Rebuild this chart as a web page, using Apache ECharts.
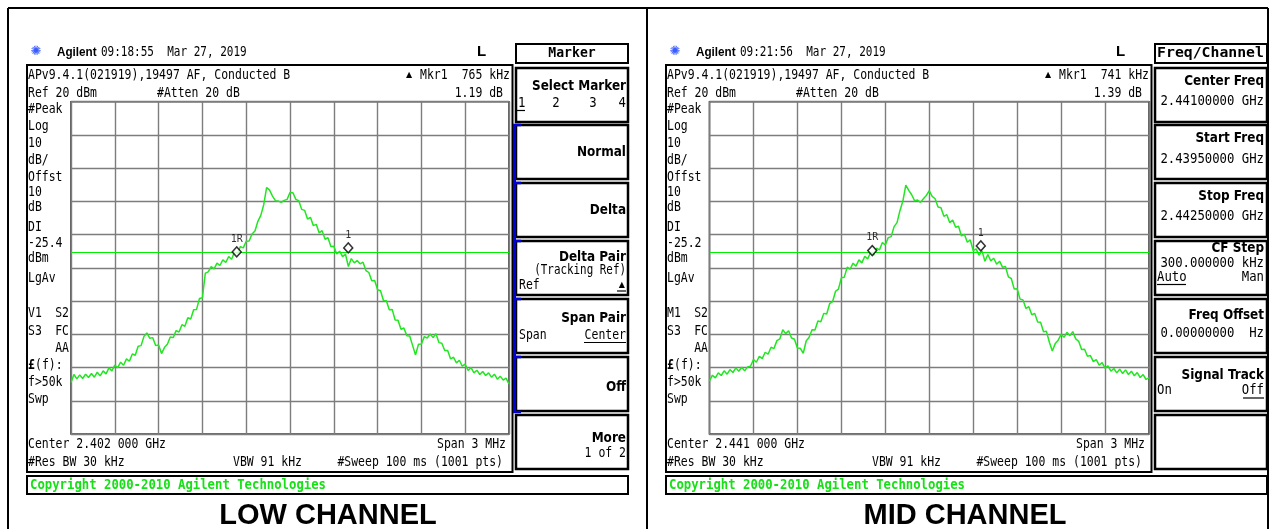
<!DOCTYPE html>
<html><head><meta charset="utf-8">
<script src="https://cdn.jsdelivr.net/npm/echarts@6/dist/echarts.min.js"></script>
<style>html,body{margin:0;padding:0;background:#fff;}#c{width:1276px;height:529px;}</style>
</head><body><div id="c"></div>
<script>
// ---- data (frequency offset from centre, kHz; level dBm) ----
const freqKHz = [-1500,-1480,-1460,-1440,-1420,-1400,-1380,-1360,-1340,-1320,
-1300,-1280,-1260,-1240,-1220,-1200,-1180,-1160,-1140,-1120,
-1100,-1080,-1060,-1040,-1020,-1000,-980,-960,-940,-920,
-900,-880,-860,-840,-820,-800,-780,-760,-740,-720,
-700,-680,-660,-640,-620,-600,-580,-560,-540,-520,
-500,-480,-460,-440,-420,-400,-380,-360,-340,-320,
-300,-280,-260,-240,-220,-200,-180,-160,-140,-120,
-100,-80,-60,-40,-20,0,20,40,60,80,
100,120,140,160,180,200,220,240,260,280,
300,320,340,360,380,400,420,440,460,480,
500,520,540,560,580,600,620,640,660,680,
700,720,740,760,780,800,820,840,860,880,
900,920,940,960,980,1000,1020,1040,1060,1080,
1100,1120,1140,1160,1180,1200,1220,1240,1260,1280,
1300,1320,1340,1360,1380,1400,1420,1440,1460,1480,
1500];
const lowLevel = [-64.5,-62.1,-63.4,-62.2,-63.3,-62.0,-63.0,-61.8,-62.9,-61.4,
-62.5,-61.0,-61.9,-60.1,-61.0,-59.3,-60.0,-58.4,-59.3,-57.4,
-58.1,-55.9,-56.3,-53.6,-53.4,-50.6,-49.6,-51.2,-51.0,-53.4,
-53.2,-55.8,-54.0,-53.0,-50.8,-51.0,-48.9,-49.3,-47.1,-47.6,
-45.0,-45.4,-42.6,-42.5,-39.2,-39.0,-31.6,-31.2,-29.6,-30.3,
-28.6,-29.3,-27.6,-28.4,-26.6,-27.4,-25.2,-25.6,-23.6,-24.0,
-22.0,-21.9,-19.8,-18.9,-16.0,-14.2,-11.0,-5.8,-6.6,-8.4,
-9.8,-9.9,-10.3,-9.7,-9.4,-7.3,-7.4,-9.4,-9.8,-12.4,
-12.7,-15.3,-14.8,-17.3,-16.9,-19.5,-18.8,-21.4,-20.9,-23.6,
-23.5,-25.8,-25.0,-26.6,-25.9,-29.6,-27.2,-28.5,-27.8,-28.8,
-28.3,-30.8,-31.4,-33.9,-33.8,-36.6,-36.9,-39.8,-39.9,-42.6,
-42.5,-45.7,-45.8,-48.5,-48.1,-50.4,-50.5,-53.4,-56.2,-53.0,
-52.9,-50.7,-51.1,-49.9,-51.0,-49.8,-52.5,-52.7,-54.9,-54.9,
-57.4,-56.9,-58.6,-57.8,-59.6,-59.0,-60.9,-60.0,-61.6,-60.8,
-62.1,-61.2,-62.4,-61.6,-62.9,-62.0,-63.5,-62.6,-63.8,-63.2,
-65.0];
const midLevel = [-64.0,-62.3,-63.1,-61.6,-62.4,-61.0,-62.0,-60.6,-61.5,-60.1,
-61.1,-59.9,-61.0,-59.8,-59.6,-57.6,-58.4,-56.6,-57.3,-55.4,
-56.0,-53.9,-54.3,-51.9,-51.4,-48.6,-49.8,-48.9,-51.1,-51.5,
-54.1,-54.2,-55.7,-52.0,-50.9,-48.6,-48.7,-46.0,-46.2,-43.7,
-43.9,-40.8,-40.2,-37.1,-36.4,-33.0,-32.8,-29.8,-30.4,-28.6,
-29.5,-27.6,-28.5,-26.5,-27.3,-25.3,-26.1,-24.1,-24.6,-22.4,
-23.1,-20.9,-20.6,-17.6,-16.4,-12.8,-9.9,-5.1,-6.7,-8.0,
-9.8,-9.6,-10.3,-9.2,-8.2,-6.8,-8.5,-9.2,-11.7,-11.9,
-14.5,-14.0,-16.4,-15.6,-17.8,-17.5,-20.4,-19.9,-22.3,-21.6,
-24.8,-24.3,-26.2,-24.9,-28.0,-26.0,-27.9,-27.1,-28.9,-28.0,
-29.8,-29.6,-32.7,-33.2,-36.4,-36.3,-39.4,-39.7,-42.2,-41.7,
-44.1,-43.7,-46.3,-46.4,-49.2,-49.1,-52.4,-55.0,-52.8,-51.8,
-50.0,-50.9,-49.4,-50.4,-49.2,-51.4,-52.1,-54.6,-54.5,-56.6,
-56.4,-58.2,-57.6,-59.3,-58.5,-60.2,-59.5,-61.1,-60.3,-61.6,
-60.5,-61.8,-60.7,-62.1,-61.1,-62.5,-61.5,-63.0,-62.1,-63.6,
-63.0];
const lowMarkerFreq = [-365, 399];
const lowMarkerLevel = [-25.2, -24.0];
const midMarkerFreq = [-389, 352];
const midMarkerLevel = [-24.8, -23.4];
const markerNames = ['1R', '1'];
const displayLineLevel = [-25.4, -25.2];
const screenTime = ['09:18:55', '09:21:56'];
const mkrDeltaFreq = ['765 kHz', '741 kHz'];
const mkrDeltaAmp = ['1.19 dB', '1.39 dB'];
const centerFreqLabel = ['2.402 000 GHz', '2.441 000 GHz'];
const modeLabel = ['V1', 'M1'];
const captions = ['LOW CHANNEL', 'MID CHANNEL'];
const markerKeys = ['Select Marker', 'Normal', 'Delta', 'Delta Pair', 'Span Pair', 'Off', 'More'];
const freqKeys = ['Center Freq', 'Start Freq', 'Stop Freq', 'CF Step', 'Freq Offset', 'Signal Track', ''];
const freqKeyValues = ['2.44100000 GHz', '2.43950000 GHz', '2.44250000 GHz', '300.000000 kHz', '0.00000000  Hz'];

// ---- drawing helpers ----
const cv = document.createElement('canvas').getContext('2d');
function charScale(font, w) { cv.font = font; return w / cv.measureText('0000000000').width * 10; }
const MONO = '14px "DejaVu Sans Mono"';
const MONOB = 'bold 14px "DejaVu Sans Mono"';
const KEYF = 'bold 14px "DejaVu Sans"';
const KEYSX = 0.86;
const monoSx = charScale(MONO, 6.9);
const subSx = charScale(MONO, 7.4);
const copySx = charScale(MONOB, 7.4);
const g = [];
function txt(x, y, s, o) {
  o = o || {};
  g.push({ type: 'text', x: x, y: y, z: 100, scaleX: o.sx == null ? monoSx : o.sx,
    style: { text: s, font: o.font || MONO, fill: o.fill || '#000',
      textAlign: o.align || 'left', textVerticalAlign: 'middle', align: o.align || 'left', verticalAlign: 'middle' } });
}
function rect(x, y, w, h, lw, stroke, fill) {
  g.push({ type: 'rect', z: 90, shape: { x: x, y: y, width: w, height: h },
    style: { fill: fill || 'none', stroke: stroke || '#000', lineWidth: lw } });
}
function line(x1, y1, x2, y2, lw, c) {
  g.push({ type: 'line', z: 95, shape: { x1: x1, y1: y1, x2: x2, y2: y2 }, style: { stroke: c || '#000', lineWidth: lw } });
}

const keyTops = [68, 125, 183, 241, 299, 357, 415];
function screen(i, dx) {
  // header
  txt(36 + dx, 52, '✺', { font: '13px "DejaVu Sans"', fill: '#3a5cff', sx: 1, align: 'center' });
  txt(57 + dx, 52, 'Agilent', { font: 'bold 13px "Liberation Sans"', sx: 0.9 });
  txt(101 + dx, 52, screenTime[i] + '  Mar 27, 2019', { sx: monoSx * 0.96 });
  txt(477 + dx, 52, 'L', { font: 'bold 15px "Liberation Sans"', sx: 1 });
  rect(27 + dx, 65, 485.5, 407, 2);
  // top rows
  txt(28 + dx, 75, 'APv9.4.1(021919),19497 AF, Conducted B');
  txt(406 + dx, 75, '▲', { font: '8px "DejaVu Sans"', sx: 1 });
  txt(420 + dx, 75, 'Mkr1');
  txt(510 + dx, 75, mkrDeltaFreq[i], { align: 'right' });
  txt(28 + dx, 93, 'Ref 20 dBm');
  txt(157 + dx, 93, '#Atten 20 dB');
  txt(503 + dx, 93, mkrDeltaAmp[i], { align: 'right' });
  // left column
  const col = [['#Peak', 109], ['Log', 126], ['10', 143], ['dB/', 160], ['Offst', 177], ['10', 192],
    ['dB', 207], ['DI', 227], [displayLineLevel[i].toFixed(1), 243], ['dBm', 258], ['LgAv', 278],
    [modeLabel[i], 313], ['S3', 331], ['f>50k', 382], ['Swp', 399]];
  col.forEach(function (c) { txt(28 + dx, c[1], c[0]); });
  txt(69 + dx, 313, 'S2', { align: 'right' });
  txt(69 + dx, 331, 'FC', { align: 'right' });
  txt(69 + dx, 348, 'AA', { align: 'right' });
  txt(28 + dx, 365, '£', { font: MONOB });
  txt(35 + dx, 365, '(f):');
  // bottom rows
  txt(28 + dx, 444, 'Center ' + centerFreqLabel[i]);
  txt(506 + dx, 444, 'Span 3 MHz', { align: 'right' });
  txt(28 + dx, 462, '#Res BW 30 kHz');
  txt(233 + dx, 462, 'VBW 91 kHz');
  txt(503 + dx, 462, '#Sweep 100 ms (1001 pts)', { align: 'right' });
  // copyright
  rect(27 + dx, 476, 601, 18, 2);
  txt(30 + dx, 485.5, 'Copyright 2000-2010 Agilent Technologies', { font: MONOB, fill: '#16e016', sx: copySx });
  // softkey boxes
  rect(516 + dx, 44, 112, 19, 2);
  keyTops.forEach(function (t) { rect(516 + dx, t, 112, 54, 2.5); });
}
screen(0, 0);
screen(1, 639);

// Marker softkeys (left)
txt(572, 53.5, 'Marker', { font: MONOB, align: 'center', sx: charScale(MONOB, 7.9) });
txt(626, 86, markerKeys[0], { font: KEYF, align: 'right', sx: KEYSX });
txt(518, 103, '1', { sx: subSx }); line(517, 110.5, 525, 110.5, 1.2);
txt(556, 103, '2', { align: 'center', sx: subSx });
txt(593, 103, '3', { align: 'center', sx: subSx });
txt(626, 103, '4', { align: 'right', sx: subSx });
txt(626, 152, markerKeys[1], { font: KEYF, align: 'right', sx: KEYSX });
txt(626, 210, markerKeys[2], { font: KEYF, align: 'right', sx: KEYSX });
txt(626, 257, markerKeys[3], { font: KEYF, align: 'right', sx: KEYSX });
txt(626, 270.5, '(Tracking Ref)', { align: 'right', sx: monoSx * 0.95 });
txt(519, 285, 'Ref', { sx: monoSx });
txt(625, 284.5, '▲', { font: '8px "DejaVu Sans"', align: 'right', sx: 1 }); line(617, 291, 626, 291, 1.2);
txt(626, 318, markerKeys[4], { font: KEYF, align: 'right', sx: KEYSX });
txt(519, 335, 'Span', { sx: monoSx });
txt(626, 335, 'Center', { align: 'right', sx: monoSx }); line(584, 342.5, 626, 342.5, 1.2);
txt(626, 387, markerKeys[5], { font: KEYF, align: 'right', sx: KEYSX });
txt(626, 438, markerKeys[6], { font: KEYF, align: 'right', sx: KEYSX });
txt(626, 453.5, '1 of 2', { align: 'right', sx: monoSx });
// blue active bar
line(514.5, 124, 514.5, 413, 3, '#0000d8');
[125, 183, 241, 299, 357, 412].forEach(function (y) { line(513, y, 521, y, 2.5, '#0000d8'); });

// Freq/Channel softkeys (right)
txt(1210.5, 53.5, 'Freq/Channel', { font: MONOB, align: 'center', sx: charScale(MONOB, 8.9) });
const fkY = [[81.7, 101.7], [138.3, 159], [196.7, 216.7], [248, 263.3], [315, 333.3], [375, 0]];
fkY.forEach(function (p, k) {
  txt(1264, p[0], freqKeys[k], { font: KEYF, align: 'right', sx: KEYSX });
  if (k < 5) txt(1264, p[1], freqKeyValues[k], { align: 'right', sx: subSx });
});
txt(1157, 277.3, 'Auto', { sx: subSx }); line(1157, 284.5, 1186, 284.5, 1.2);
txt(1264, 277.3, 'Man', { align: 'right', sx: subSx });
txt(1157, 390.7, 'On', { sx: subSx });
txt(1264, 390.7, 'Off', { align: 'right', sx: subSx }); line(1243, 398, 1264, 398, 1.2);

// outer frame and captions
line(8, 8, 1268, 8, 2);
line(8, 8, 8, 529, 2);
line(647, 8, 647, 529, 2);
line(1268, 8, 1268, 529, 2);
txt(328, 516, captions[0], { font: 'bold 29px "Liberation Sans"', align: 'center', sx: 1 });
txt(965, 516, captions[1], { font: 'bold 29px "Liberation Sans"', align: 'center', sx: 1 });

// ---- chart ----
function pairs(xs, ys) { return xs.map(function (x, k) { return [x, ys[k]]; }); }
function markerData(fs, ls) { return fs.map(function (f, k) { return { name: markerNames[k], value: [f, ls[k]] }; }); }
const gridCommon = { show: true, borderColor: '#3c3c3c', borderWidth: 1.6, backgroundColor: '#fff' };
function xAx(k) {
  return { gridIndex: k, type: 'value', min: -1500, max: 1500, interval: 300,
    axisLabel: { show: false }, axisTick: { show: false }, axisLine: { show: false },
    splitLine: { show: true, lineStyle: { color: '#7d7d7d', width: 1.4 } } };
}
function yAx(k) {
  return { gridIndex: k, type: 'value', min: -80, max: 20, interval: 10,
    axisLabel: { show: false }, axisTick: { show: false }, axisLine: { show: false },
    splitLine: { show: true, lineStyle: { color: '#7d7d7d', width: 1.4 } } };
}
function traceSeries(k, levels) {
  return { type: 'line', xAxisIndex: k, yAxisIndex: k, data: pairs(freqKHz, levels),
    showSymbol: false, symbol: 'none', lineStyle: { color: '#22e622', width: 1.5 }, z: 3,
    markLine: { silent: true, symbol: ['none', 'none'], label: { show: false },
      lineStyle: { color: '#00ee00', type: 'solid', width: 1.2 }, data: [{ yAxis: displayLineLevel[k] }] } };
}
function markerSeries(k, fs, ls) {
  return { type: 'scatter', xAxisIndex: k, yAxisIndex: k, data: markerData(fs, ls), z: 5,
    symbol: 'diamond', symbolSize: [9, 10],
    itemStyle: { color: '#fff', borderColor: '#000', borderWidth: 1.5 },
    label: { show: true, position: 'top', distance: 2, formatter: '{b}', color: '#000',
      fontFamily: 'DejaVu Sans Mono', fontSize: 10 } };
}
const chart = echarts.init(document.getElementById('c'));
chart.setOption({
  animation: false,
  backgroundColor: '#fff',
  grid: [Object.assign({ left: 71, top: 101.7, width: 438, height: 332.3 }, gridCommon),
         Object.assign({ left: 709.5, top: 101.7, width: 439.5, height: 332.3 }, gridCommon)],
  xAxis: [xAx(0), xAx(1)],
  yAxis: [yAx(0), yAx(1)],
  series: [traceSeries(0, lowLevel), traceSeries(1, midLevel),
           markerSeries(0, lowMarkerFreq, lowMarkerLevel), markerSeries(1, midMarkerFreq, midMarkerLevel)],
  graphic: { elements: g }
});
</script></body></html>
